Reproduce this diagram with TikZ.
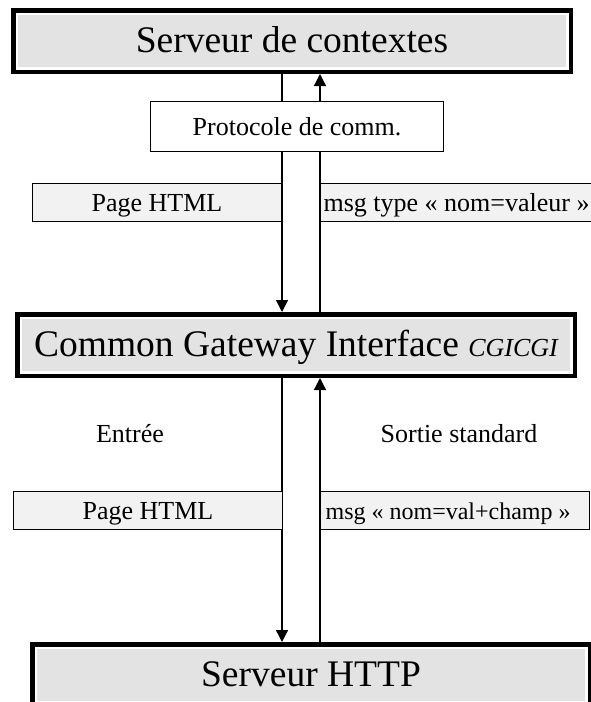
\documentclass[tikz,border=0pt]{standalone}
\usepackage{fontspec}
\setmainfont{Liberation Serif}
\usepackage{tikz}
\usetikzlibrary{arrows.meta}

\definecolor{servfill}{gray}{0.89}
\definecolor{pagefill}{gray}{0.95}

\tikzset{
  grand/.style={font=\fontsize{37.5}{40}\selectfont, text height=31pt, text depth=9pt},
  petit/.style={font=\fontsize{26}{30}\selectfont, text height=23pt, text depth=6pt},
  serveur/.style={grand, draw=black, line width=4.5pt, fill=white, inner sep=0pt,
    minimum width=557.5pt, minimum height=61.5pt,
    path picture={\fill[servfill] ([shift={(5pt,-5pt)}]path picture bounding box.north west)
      rectangle ([shift={(-5pt,5pt)}]path picture bounding box.south east);}},
  boite/.style={petit, draw=black, line width=1.2pt, fill=pagefill, inner sep=0pt, minimum height=38pt},
  msgbox/.style={boite, anchor=west, inner xsep=3pt},
  flux/.style={line width=1.3pt, -{Triangle[length=12pt,width=12pt]}}
}

\begin{document}
\begin{tikzpicture}[x=1pt, y=-1pt]

\useasboundingbox (0,0) rectangle (591,702);
\clip (0,0) rectangle (591,702);

\node[serveur] (ctx)  at (292, 41)  {Serveur de contextes};
\node[serveur] (cgi)  at (296, 345) {Common Gateway Interface {\fontsize{26}{30}\selectfont\itshape CGICGI}};
\node[serveur] (http) at (311, 675) {Serveur HTTP};

\coordinate (gauche) at (282, 0);
\coordinate (droite) at (320, 0);

\draw[flux] (ctx.south -| gauche) -- (cgi.north -| gauche);
\draw[flux] (cgi.north -| droite) -- (ctx.south -| droite);
\draw[flux] (cgi.south -| gauche) -- (http.north -| gauche);
\draw[flux] (http.north -| droite) -- (cgi.south -| droite);

\node[boite, fill=white, minimum width=292.8pt, minimum height=50pt] (proto) at (297, 126.5) {Protocole de comm.};

\node[boite, minimum width=249pt] (page1) at (157, 202.5) {Page HTML};
\node[msgbox] (msg1) at (320, 202.5) {\makebox[276pt][l]{msg type « nom=valeur »}};

\node[petit] (entree) at (130, 433.5) {Entrée};
\node[petit] (sortie) at (459, 433.5) {Sortie standard};

\node[boite, minimum width=268.8pt] (page2) at (148, 510.5) {Page HTML};
\node[msgbox, inner xsep=5pt, font=\fontsize{24}{28}\selectfont] (msg2) at (320, 510.5) {\makebox[258.8pt][l]{msg « nom=val+champ »}};

\end{tikzpicture}
\end{document}
